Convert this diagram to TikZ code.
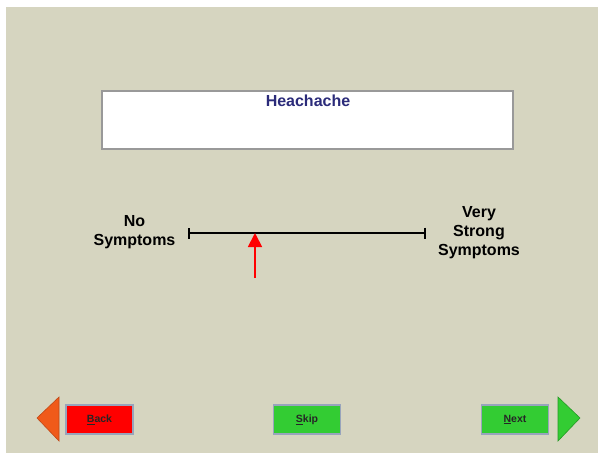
\documentclass[tikz,border=0pt]{standalone}
\usepackage{fontspec}
\setmainfont{Liberation Sans}
\usetikzlibrary{arrows.meta}

\definecolor{panel}{HTML}{D6D5C0}
\definecolor{titleblue}{HTML}{2B2B7A}
\definecolor{backred}{HTML}{FF0000}
\definecolor{goleft}{HTML}{F05A1A}
\definecolor{gogreen}{HTML}{33CC33}
\definecolor{btnedge}{HTML}{98A4BC}

\tikzset{
  label16/.style={font=\fontsize{16}{19}\selectfont\bfseries, align=center, inner sep=0pt},
  button/.style={draw=btnedge, line width=1.5pt, minimum width=67pt, minimum height=29pt,
                 inner sep=0pt, font=\fontsize{10.5}{12}\selectfont\bfseries, text=black!85},
}

\begin{document}
\begin{tikzpicture}[x=1pt,y=-1pt]
\useasboundingbox (0,0) rectangle (598,453);
\fill[panel] (6,7) rectangle (598,453);

\node[draw=gray!80, line width=1.2pt, fill=white, minimum width=411pt, minimum height=58pt,
      inner sep=0pt] (titlebox) at (307.5,120) {};
\node[label16, text=titleblue] (title) at (308,101) {Heachache};

\coordinate (lo) at (188,233);
\coordinate (hi) at (426,233);
\draw[line width=2.4pt, {Bar[width=11pt]}-{Bar[width=11pt]}] (lo) -- (hi);
\node[label16] (nosym) at (134.5,232.5) {No\\Symptoms};
\node[label16] (strong) at (479,233) {Very\\Strong\\Symptoms};

\coordinate (mark) at (255,233);
\coordinate (pin) at (255,278);
\draw[red, line width=1.8pt, -{Triangle[width=14pt,length=14pt]}] (pin) -- (mark);

\node[button, fill=backred] (back) at (99.5,419.5) {\underline{B}ack};
\node[button, fill=gogreen] (skip) at (307,419.5) {\underline{S}kip};
\node[button, fill=gogreen] (next) at (515,419.5) {\underline{N}ext};

\filldraw[fill=goleft, draw=goleft!80!black, line width=0.6pt] (37,418) -- (59,397) -- (59,441) -- cycle;
\filldraw[fill=gogreen, draw=gogreen!75!black, line width=0.6pt] (580,418) -- (558,397) -- (558,441) -- cycle;

\end{tikzpicture}
\end{document}
